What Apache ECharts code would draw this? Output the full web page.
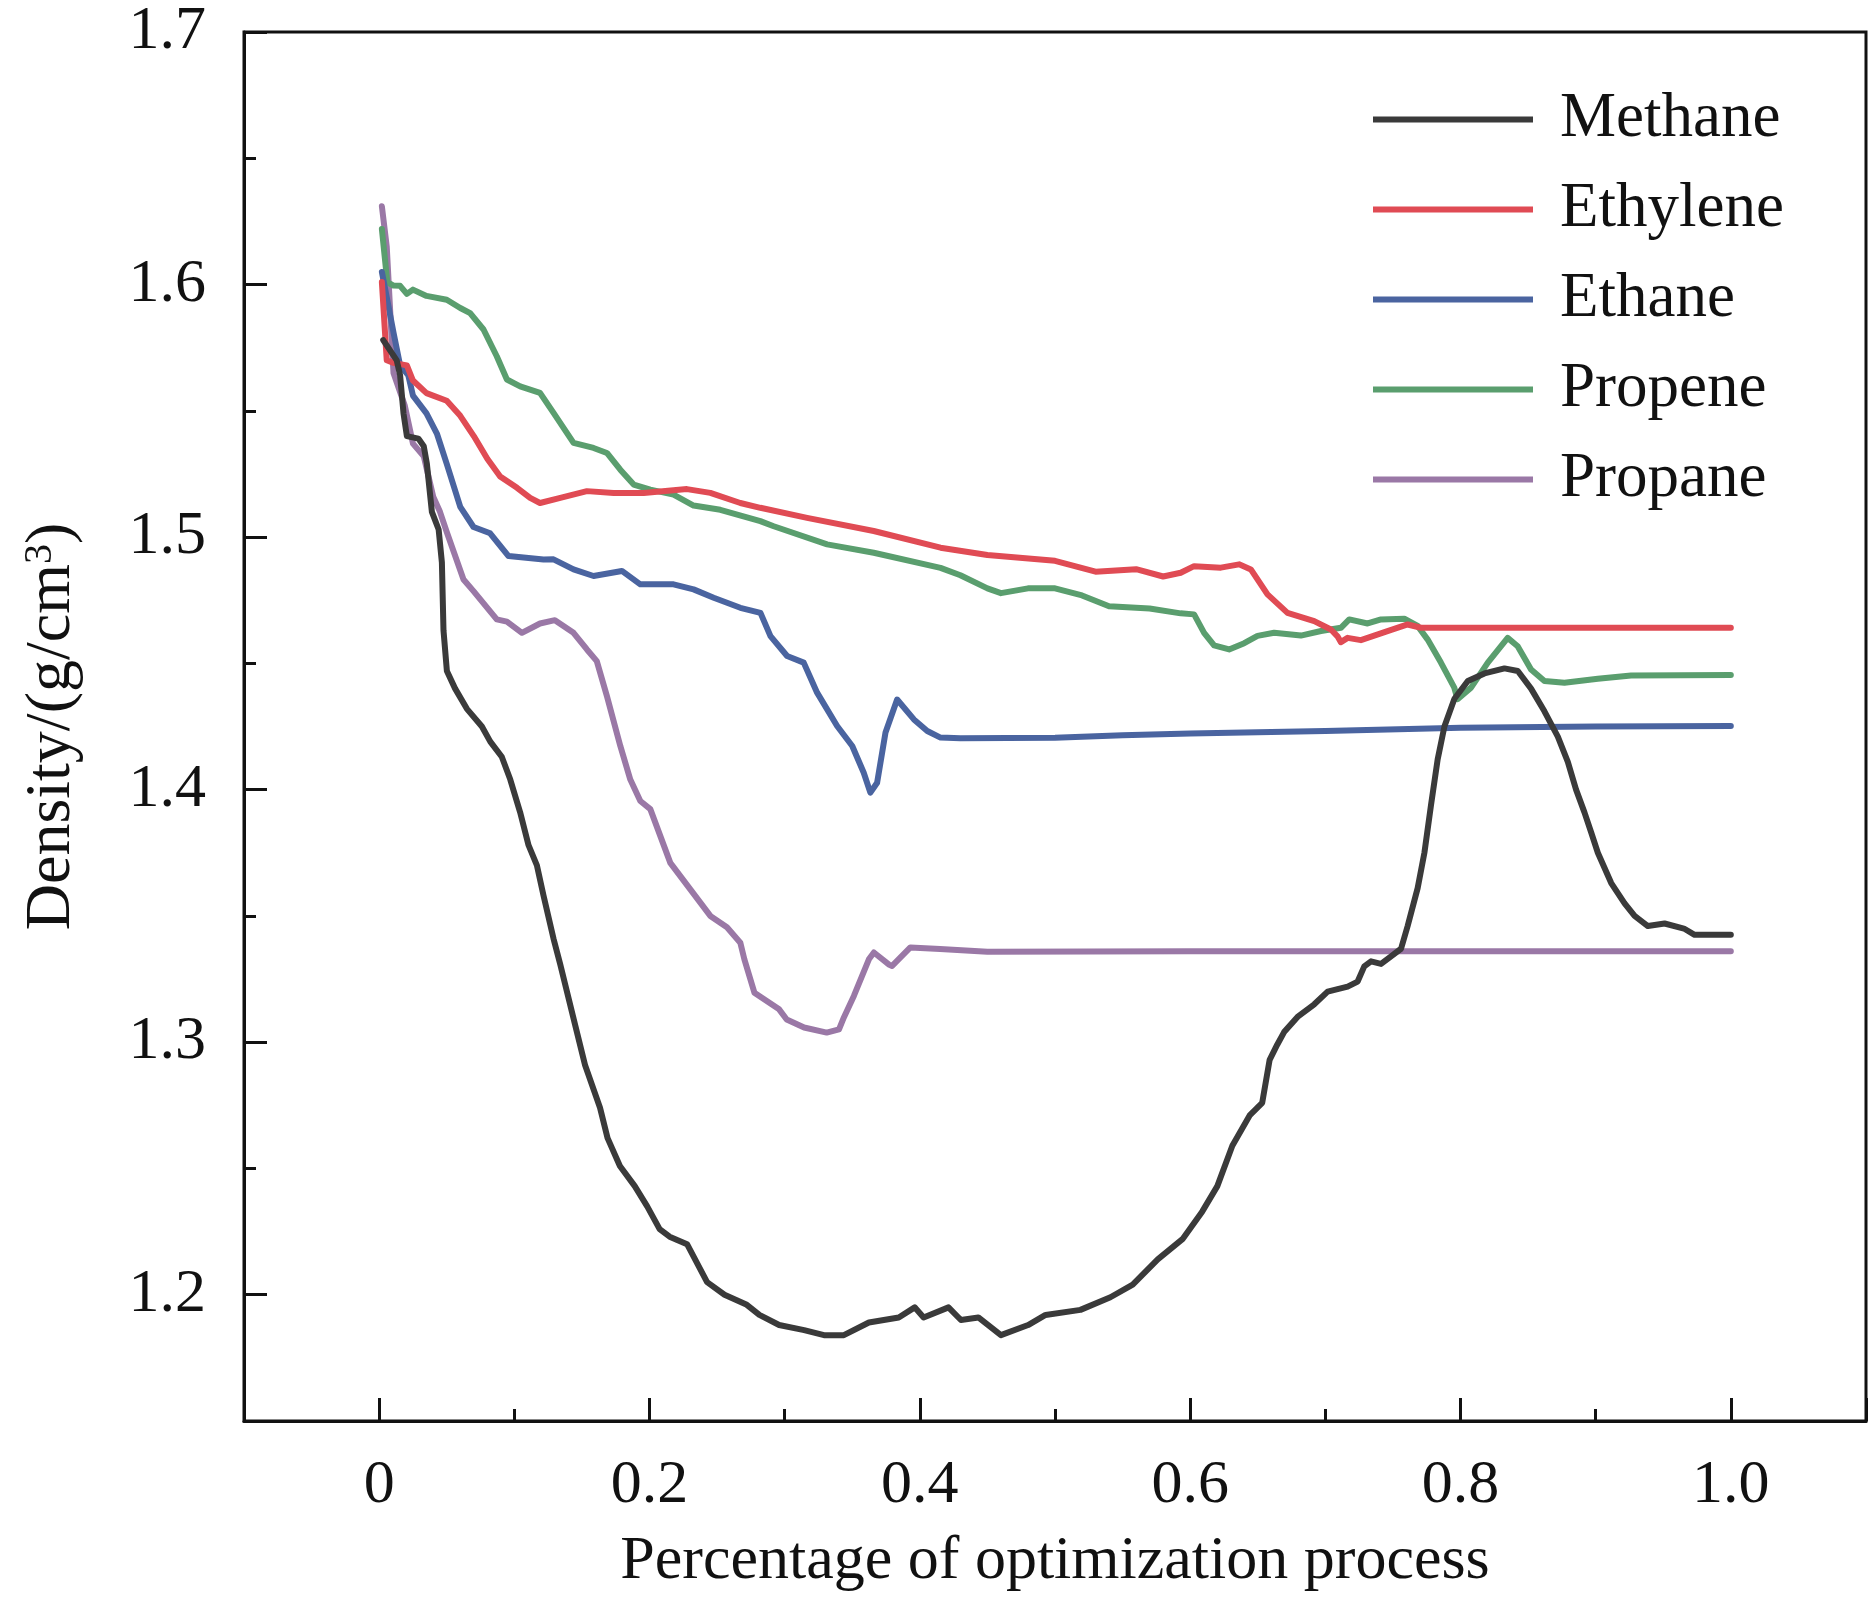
<!DOCTYPE html>
<html>
<head>
<meta charset="utf-8">
<script src="https://cdn.jsdelivr.net/npm/echarts@6/dist/echarts.min.js"></script>
<style>
  html, body { margin: 0; padding: 0; background: #fff; }
  #main { width: 1869px; height: 1598px; }
</style>
</head>
<body>
<div id="main"></div>
<script>
const FONT = '"Liberation Serif", "Times New Roman", serif'

const SERIES_NAMES = ['Methane', 'Ethylene', 'Ethane', 'Propene', 'Propane']
const COLORS = ['#3a3a3a', '#e04b54', '#4a64a0', '#5a9e6e', '#9a78a6']

// [percentage of optimization process, density g/cm3]
const methane = [
  [0.003, 1.578], [0.013, 1.570], [0.0155, 1.564], [0.018, 1.549], [0.0205, 1.540],
  [0.029, 1.539], [0.033, 1.536], [0.0353, 1.529], [0.039, 1.510], [0.044, 1.503],
  [0.0464, 1.490], [0.0476, 1.463], [0.0501, 1.447], [0.0562, 1.440], [0.0649, 1.432],
  [0.076, 1.425], [0.0822, 1.419], [0.0907, 1.413], [0.097, 1.404], [0.1043, 1.391],
  [0.1105, 1.378], [0.1167, 1.370], [0.1216, 1.358], [0.129, 1.341], [0.1339, 1.331],
  [0.1449, 1.307], [0.1523, 1.291], [0.1634, 1.274], [0.169, 1.262], [0.1781, 1.251],
  [0.1891, 1.243], [0.1983, 1.235], [0.2075, 1.226], [0.2149, 1.223], [0.2278, 1.220],
  [0.2426, 1.205], [0.2555, 1.200], [0.272, 1.196], [0.2813, 1.192], [0.2959, 1.188],
  [0.3144, 1.186], [0.3291, 1.184], [0.3438, 1.184], [0.3623, 1.189], [0.3844, 1.191],
  [0.3962, 1.195], [0.4028, 1.191], [0.4212, 1.195], [0.4304, 1.190], [0.4433, 1.191],
  [0.460, 1.184], [0.4801, 1.188], [0.493, 1.192], [0.5188, 1.194], [0.541, 1.199],
  [0.5575, 1.204], [0.576, 1.214], [0.5943, 1.222], [0.609, 1.233], [0.6201, 1.243],
  [0.6312, 1.259], [0.644, 1.271], [0.6533, 1.276], [0.6588, 1.293], [0.6644, 1.299],
  [0.6695, 1.304], [0.6794, 1.310], [0.6918, 1.315], [0.7017, 1.320], [0.7165, 1.322],
  [0.7239, 1.324], [0.7288, 1.330], [0.7338, 1.332], [0.7412, 1.331], [0.7486, 1.334],
  [0.756, 1.337], [0.7609, 1.346], [0.7683, 1.361], [0.7733, 1.375], [0.7782, 1.394],
  [0.7831, 1.412], [0.7881, 1.425], [0.7955, 1.436], [0.8054, 1.443], [0.8177, 1.446],
  [0.8325, 1.448], [0.8424, 1.447], [0.8522, 1.440], [0.8621, 1.431], [0.872, 1.421],
  [0.8794, 1.411], [0.8855, 1.400], [0.8917, 1.391], [0.8967, 1.383], [0.9016, 1.375],
  [0.9115, 1.363], [0.9214, 1.355], [0.9288, 1.350], [0.9386, 1.346], [0.951, 1.347],
  [0.9653, 1.345], [0.9732, 1.3425], [1.0, 1.3425],
]

const ethylene = [
  [0.002, 1.601], [0.0056, 1.570], [0.0106, 1.569], [0.0205, 1.568], [0.025, 1.562],
  [0.035, 1.557], [0.05, 1.554], [0.06, 1.548], [0.07, 1.540], [0.08, 1.531],
  [0.0895, 1.524], [0.102, 1.5195], [0.1117, 1.5155], [0.119, 1.5135], [0.134, 1.5155],
  [0.1537, 1.5182], [0.1735, 1.5175], [0.1957, 1.5175], [0.2277, 1.519], [0.245, 1.5175],
  [0.2672, 1.5135], [0.282, 1.5116], [0.3166, 1.5076], [0.3659, 1.5024], [0.4153, 1.4958],
  [0.45, 1.4929], [0.5, 1.4906], [0.53, 1.4863], [0.56, 1.4873], [0.58, 1.4844],
  [0.593, 1.4859], [0.6029, 1.4885], [0.6227, 1.4879], [0.6362, 1.4892], [0.6449, 1.4872],
  [0.6572, 1.4773], [0.672, 1.470], [0.6918, 1.4667], [0.7041, 1.4634], [0.709, 1.4607],
  [0.7115, 1.4584], [0.7165, 1.4601], [0.7263, 1.4592], [0.746, 1.4628], [0.7609, 1.4654],
  [0.7708, 1.4641], [1.0, 1.4641],
]

const ethane = [
  [0.002, 1.605], [0.0106, 1.581], [0.0155, 1.568], [0.0216, 1.564], [0.025, 1.556],
  [0.035, 1.549], [0.0427, 1.541], [0.05, 1.529], [0.06, 1.512], [0.0698, 1.504],
  [0.0821, 1.5015], [0.0957, 1.4925], [0.1216, 1.4911], [0.129, 1.4912], [0.1438, 1.4872],
  [0.1586, 1.4846], [0.1796, 1.4866], [0.1932, 1.4813], [0.2178, 1.4813], [0.2326, 1.4793],
  [0.2475, 1.476], [0.2672, 1.472], [0.2821, 1.470], [0.2895, 1.4608], [0.3018, 1.4529],
  [0.3141, 1.4503], [0.324, 1.4384], [0.3388, 1.4252], [0.35, 1.4173], [0.3585, 1.4067],
  [0.3634, 1.3988], [0.3684, 1.4027], [0.3746, 1.4226], [0.3832, 1.4357], [0.3956, 1.4278],
  [0.4055, 1.4232], [0.4153, 1.4206], [0.43, 1.4203], [0.5, 1.4205], [0.55, 1.4215],
  [0.6, 1.4222], [0.7, 1.4232], [0.8, 1.4245], [0.9, 1.425], [1.0, 1.4252],
]

const propene = [
  [0.002, 1.622], [0.006, 1.601], [0.0106, 1.5996], [0.0155, 1.5995], [0.0205, 1.5963],
  [0.025, 1.598], [0.035, 1.5955], [0.05, 1.594], [0.06, 1.5907], [0.0673, 1.5887],
  [0.0772, 1.5822], [0.087, 1.5716], [0.0945, 1.5624], [0.1043, 1.5597], [0.119, 1.5571],
  [0.129, 1.5492], [0.1438, 1.5373], [0.1586, 1.5353], [0.1685, 1.5333], [0.1784, 1.5267],
  [0.1883, 1.5208], [0.2006, 1.5188], [0.2178, 1.5168], [0.2326, 1.5125], [0.2524, 1.5108],
  [0.282, 1.5063], [0.2919, 1.5043], [0.3314, 1.4971], [0.3659, 1.4938], [0.4153, 1.4878],
  [0.43, 1.4849], [0.45, 1.4797], [0.46, 1.4778], [0.48, 1.4797], [0.5, 1.4797],
  [0.52, 1.4769], [0.54, 1.4726], [0.57, 1.4717], [0.593, 1.4698], [0.6029, 1.4694],
  [0.6103, 1.4621], [0.6177, 1.4571], [0.6288, 1.4555], [0.64, 1.458], [0.6498, 1.4609],
  [0.6621, 1.4621], [0.6819, 1.461], [0.6968, 1.4628], [0.7115, 1.4641], [0.7177, 1.4674],
  [0.7313, 1.4658], [0.7412, 1.4674], [0.7584, 1.4677], [0.7683, 1.4648], [0.7756, 1.4595],
  [0.7855, 1.4503], [0.7954, 1.4404], [0.7978, 1.4358], [0.8078, 1.4404], [0.8202, 1.4503],
  [0.8349, 1.4601], [0.8423, 1.4568], [0.8522, 1.4476], [0.8621, 1.443], [0.8769, 1.4423],
  [0.9016, 1.4439], [0.9262, 1.4452], [1.0, 1.4454],
]

const propane = [
  [0.002, 1.631], [0.0056, 1.615], [0.0106, 1.565], [0.019, 1.552], [0.025, 1.537],
  [0.033, 1.532], [0.040, 1.516], [0.045, 1.510], [0.050, 1.502], [0.0624, 1.4832],
  [0.0698, 1.4786], [0.087, 1.4674], [0.0945, 1.4665], [0.1056, 1.4621], [0.119, 1.4658],
  [0.130, 1.4671], [0.1438, 1.4621], [0.1537, 1.4555], [0.161, 1.4509], [0.1685, 1.437],
  [0.1784, 1.4173], [0.1858, 1.404], [0.1932, 1.3955], [0.2006, 1.3923], [0.2154, 1.371],
  [0.2302, 1.3605], [0.245, 1.350], [0.2573, 1.3455], [0.2672, 1.3394], [0.2702, 1.3328],
  [0.2776, 1.3196], [0.2959, 1.313], [0.3015, 1.309], [0.3144, 1.3058], [0.3311, 1.3038],
  [0.3402, 1.3051], [0.3438, 1.3098], [0.3512, 1.3183], [0.3623, 1.3328], [0.366, 1.3355],
  [0.377, 1.3308], [0.3795, 1.3302], [0.393, 1.3375], [0.415, 1.3369], [0.45, 1.3358],
  [0.6, 1.336], [1.0, 1.336],
]

const SERIES_DATA = [methane, ethylene, ethane, propene, propane]

const X_MIN = -0.1
const X_MAX = 1.1
const Y_MIN = 1.15
const Y_MAX = 1.7

const isTenth = (v) => Math.abs(v * 10 - Math.round(v * 10)) < 1e-6
const isEvenTenth = (v) => isTenth(v) && Math.round(v * 10) % 2 === 0

const axisLine = { onZero: false, lineStyle: { color: '#111', width: 3 } }
const tickStyle = { color: '#111', width: 3 }

function main() {
  const chart = echarts.init(document.getElementById('main'), null, { renderer: 'canvas' })

  const series = SERIES_NAMES.map((name, i) => ({
    name,
    type: 'line',
    data: SERIES_DATA[i],
    symbol: 'none',
    smooth: false,
    lineStyle: { color: COLORS[i], width: 6, cap: 'round', join: 'round' },
    itemStyle: { color: COLORS[i] },
    z: 10 - i,
  }))

  chart.setOption({
    backgroundColor: '#fff',
    animation: false,
    textStyle: { fontFamily: FONT },
    grid: {
      left: 244, right: 3, top: 32, bottom: 177,
      show: true, borderColor: '#111', borderWidth: 3, backgroundColor: 'transparent',
    },
    legend: {
      orient: 'vertical',
      left: 1368,
      top: 83,
      icon: 'rect',
      itemWidth: 160,
      itemHeight: 6,
      itemGap: 27,
      data: SERIES_NAMES,
      textStyle: {
        fontFamily: FONT, fontSize: 63, color: '#111', lineHeight: 63,
        padding: [0, 0, 0, 22],
      },
    },
    xAxis: [
      {
        type: 'value',
        min: X_MIN, max: X_MAX, interval: 0.1,
        position: 'bottom',
        axisLine,
        axisTick: { inside: true, length: 12, lineStyle: tickStyle },
        splitLine: { show: false },
        axisLabel: {
          margin: 34,
          fontFamily: FONT, fontSize: 62, color: '#111',
          showMinLabel: false, showMaxLabel: false,
          formatter: (v) => {
            if (v < -1e-6 || v > 1 + 1e-6 || !isEvenTenth(v)) return ''
            return Math.abs(v) < 1e-6 ? '0' : v.toFixed(1)
          },
        },
        name: 'Percentage of optimization process',
        nameLocation: 'middle',
        nameGap: 110,
        nameTextStyle: { fontFamily: FONT, fontSize: 62, color: '#111' },
      },
      {
        // longer major ticks every 0.2
        type: 'value',
        min: X_MIN, max: X_MAX, splitNumber: 6,
        position: 'bottom',
        axisLine: { show: false, onZero: false },
        axisTick: { inside: true, length: 23, lineStyle: tickStyle },
        splitLine: { show: false },
        axisLabel: { show: false },
      },
    ],
    yAxis: [
      {
        type: 'value',
        min: Y_MIN, max: Y_MAX, interval: 0.05,
        position: 'left',
        axisLine,
        axisTick: { inside: true, length: 12, lineStyle: tickStyle },
        splitLine: { show: false },
        axisLabel: {
          margin: 38,
          fontFamily: FONT, fontSize: 62, color: '#111',
          formatter: (v) => (isTenth(v) ? v.toFixed(1) : ''),
        },
        name: 'Density/(g/cm{sup|3})',
        nameLocation: 'middle',
        nameRotate: 90,
        nameGap: 160,
        nameTextStyle: {
          fontFamily: FONT, fontSize: 64, color: '#111',
          rich: {
            sup: { fontFamily: FONT, fontSize: 40, color: '#111', verticalAlign: 'top', lineHeight: 40, padding: [0, 0, 26, 0] },
          },
        },
      },
      {
        // longer major ticks every 0.1
        type: 'value',
        min: Y_MIN, max: Y_MAX, splitNumber: 5,
        position: 'left',
        axisLine: { show: false, onZero: false },
        axisTick: { inside: true, length: 23, lineStyle: tickStyle },
        splitLine: { show: false },
        axisLabel: { show: false },
      },
    ],
    series,
  })
}

window.onload = main
</script>
</body>
</html>
